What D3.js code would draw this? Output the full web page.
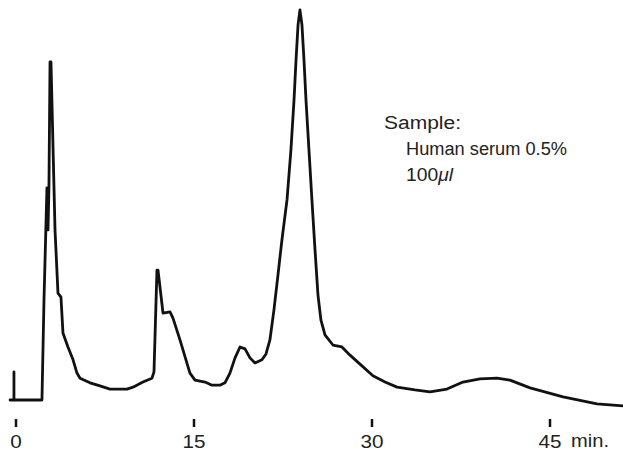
<!DOCTYPE html>
<html>
<head>
<meta charset="utf-8">
<script src="https://cdn.jsdelivr.net/npm/d3@7"></script>
<style>
  html, body { margin: 0; padding: 0; background: #fff; }
  svg { display: block; }
  text { font-family: "Liberation Sans", Arial, Helvetica, sans-serif; fill: #222; }
</style>
</head>
<body>
<svg id="chart" width="623" height="453"></svg>
<script>
// Elution time (min) and detector response (% of the largest peak)
const timeMin = [
  -0.46, -0.13, -0.13, -0.13, 2.23, 2.40, 2.65, 2.74, 2.82, 2.91, 2.99,
  3.33, 3.58, 3.83, 4.00, 4.42, 4.85, 5.18, 5.44, 6.28, 7.12, 7.96,
  9.40, 9.90, 10.74, 11.50, 11.67, 11.92, 12.01, 12.43, 13.02, 13.27,
  13.86, 14.70, 15.13, 15.97, 16.56, 17.23, 17.65, 18.07, 18.50, 18.92,
  19.34, 19.76, 20.18, 20.77, 21.11, 21.44, 21.78, 22.12, 22.45, 22.88,
  23.21, 23.47, 23.64, 23.81, 23.97, 24.14, 24.31, 24.48, 24.73, 24.98,
  25.24, 25.49, 25.74, 26.08, 26.75, 27.51, 28.19, 29.03, 30.12, 31.14,
  32.15, 33.66, 34.93, 36.36, 37.71, 39.14, 40.57, 41.67, 43.36, 46.14,
  49.00, 51.19
];
const response = [
  0, 0, 7.2, 0, 0, 25.6, 54.4, 43.6, 54.9, 86.7, 86.7,
  43.6, 27.4, 26.4, 17.2, 13.6, 10.3, 6.9, 5.6, 4.4, 3.6, 2.8,
  2.8, 3.3, 4.6, 5.6, 7.2, 33.3, 33.3, 22.3, 22.6, 21.0,
  15.4, 6.9, 5.1, 4.6, 3.8, 3.8, 4.4, 6.9, 10.8, 13.6,
  13.1, 10.8, 9.5, 10.3, 11.8, 15.4, 23.1, 32.1, 41.0, 51.3,
  64.1, 76.9, 87.2, 96.2, 100, 96.2, 87.2, 76.9, 64.1, 51.3,
  38.5, 26.9, 20.5, 16.7, 14.1, 13.6, 11.5, 9.2, 6.2, 4.6,
  3.3, 2.6, 2.1, 2.8, 4.6, 5.4, 5.6, 5.1, 3.1, 0.8,
  -1.0, -1.5
];
const tickValues = [0, 15, 30, 45];
const unitLabel = "min.";
const sampleLines = ["Sample:", "Human serum 0.5%", "100"];
const volumeUnit = "μl";

const svg = d3.select("#chart");

const x = d3.scaleLinear().domain([0, 45]).range([15.5, 549.5]);
const y = d3.scaleLinear().domain([0, 100]).range([400, 10]);

const points = timeMin.map((t, i) => [t, response[i]]);

const line = d3.line()
  .x(d => x(d[0]))
  .y(d => y(d[1]))
  .curve(d3.curveLinear);

svg.append("path")
  .datum(points)
  .attr("d", line)
  .attr("fill", "none")
  .attr("stroke", "#111")
  .attr("stroke-width", 2.8)
  .attr("stroke-linejoin", "round")
  .attr("stroke-linecap", "round");

// Time axis: tick marks and labels only
const axis = d3.axisBottom(x)
  .tickValues(tickValues)
  .tickSize(8)
  .tickPadding(8)
  .tickFormat(d3.format("d"));

const gAxis = svg.append("g")
  .attr("transform", "translate(0,419)")
  .call(axis);
gAxis.select(".domain").remove();
gAxis.selectAll(".tick line").attr("stroke", "#111").attr("stroke-width", 2.5);
gAxis.selectAll(".tick text")
  .attr("font-size", 18)
  .attr("font-family", "Liberation Sans, Arial, sans-serif")
  .attr("fill", "#222")
  .attr("textLength", d => String(d).length * 11.5)
  .attr("lengthAdjust", "spacingAndGlyphs");

svg.append("text")
  .attr("x", 571)
  .attr("y", 447)
  .attr("font-size", 18)
  .attr("textLength", 38)
  .attr("lengthAdjust", "spacingAndGlyphs")
  .text(unitLabel);

// Sample annotation
svg.append("text")
  .attr("x", 384).attr("y", 129)
  .attr("font-size", 18)
  .attr("textLength", 77)
  .attr("lengthAdjust", "spacingAndGlyphs")
  .text(sampleLines[0]);

svg.append("text")
  .attr("x", 406).attr("y", 155)
  .attr("font-size", 18)
  .attr("textLength", 161)
  .attr("lengthAdjust", "spacingAndGlyphs")
  .text(sampleLines[1]);

const vol = svg.append("text")
  .attr("x", 406).attr("y", 181)
  .attr("font-size", 18)
  .attr("textLength", 47)
  .attr("lengthAdjust", "spacingAndGlyphs");
vol.append("tspan").text(sampleLines[2]);
vol.append("tspan").attr("font-style", "italic").text(volumeUnit);
</script>
</body>
</html>
